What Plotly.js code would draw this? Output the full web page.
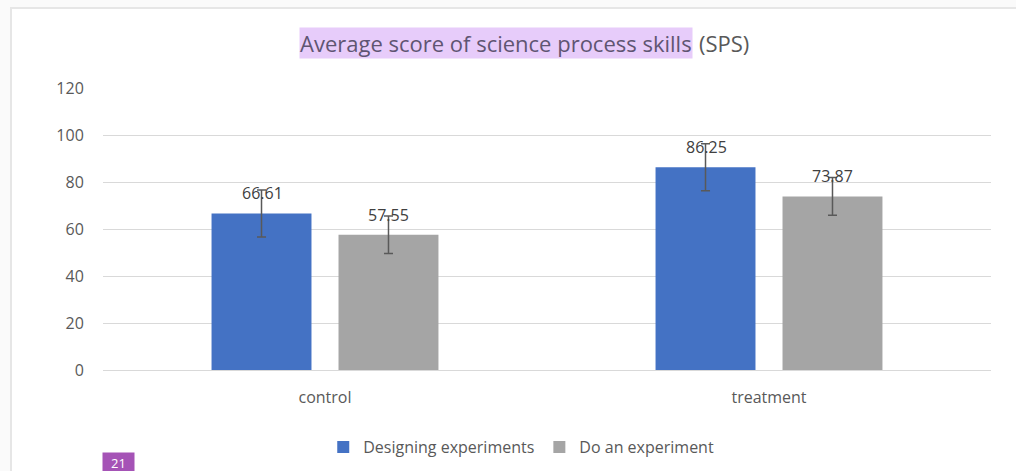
<!DOCTYPE html>
<html>
<head>
<meta charset="utf-8">
<script src="https://cdn.plot.ly/plotly-3.0.1.min.js"></script>
<style>
  html, body { margin: 0; padding: 0; background: #fafafa; width: 1016px; height: 471px; overflow: hidden; }
  #frame { position: absolute; left: 10px; top: 7px; width: 1030px; height: 490px; background: #ffffff; border: 2px solid #e6e6e6; }
  #chart { position: absolute; left: 0; top: 0; width: 1016px; height: 471px; }
</style>
</head>
<body>
<div id="frame"></div>
<div id="chart"></div>
<script>
const categories = ["control", "treatment"];
const seriesNames = ["Designing experiments", "Do an experiment"];
const designingValues = [66.61, 86.25];
const doValues = [57.55, 73.87];
const designingErrors = [10, 10];
const doErrors = [8, 8];
const yTicks = [0, 20, 40, 60, 80, 100, 120];
const titleMain = "Average score of science process skills";
const titleTail = "(SPS)";
const badgeText = "21";

const colors = ["#4472c4", "#a5a5a5"];
const fontFam = "Open Sans, sans-serif";
const txt = "#595959";

const values = [designingValues, doValues];
const errors = [designingErrors, doErrors];

const traces = values.map((v, i) => ({
  type: "bar",
  name: seriesNames[i],
  x: categories,
  y: v,
  marker: { color: colors[i] },
  error_y: { type: "data", array: errors[i], visible: true, color: "#595959", thickness: 1.5, width: 4.5 },
  hoverinfo: "none"
}));

const annotations = [];
const xshifts = [-63, 63];
values.forEach((v, i) => {
  v.forEach((val, j) => {
    annotations.push({
      x: categories[j], y: val, xref: "x", yref: "y",
      text: val.toFixed(2), showarrow: false,
      yanchor: "bottom", yshift: 7, xshift: xshifts[i],
      font: { family: fontFam, size: 16, color: "#404040" }
    });
  });
});

annotations.push({
  xref: "paper", yref: "paper", x: 0.664, y: 1.16, xanchor: "right", yanchor: "middle",
  text: titleMain, showarrow: false, bgcolor: "#e7ccfa", borderpad: 0,
  font: { family: fontFam, size: 22, color: "#5f5572" }
});
annotations.push({
  xref: "paper", yref: "paper", x: 0.669, y: 1.16, xanchor: "left", yanchor: "middle",
  text: titleTail, showarrow: false,
  font: { family: fontFam, size: 22, color: txt }
});
annotations.push({
  xref: "paper", yref: "paper", x: 0.0175, y: -0.291, xanchor: "center", yanchor: "top",
  text: badgeText, showarrow: false, bgcolor: "#a553b6", borderpad: 1, width: 29,
  font: { family: fontFam, size: 13, color: "#ffffff" }
});

const layout = {
  width: 1016, height: 471,
  margin: { l: 103, r: 25, t: 88, b: 101, autoexpand: false },
  paper_bgcolor: "rgba(0,0,0,0)",
  plot_bgcolor: "rgba(0,0,0,0)",
  barmode: "group",
  bargap: 0.428,
  bargroupgap: 0.213,
  font: { family: fontFam, color: txt },
  xaxis: {
    type: "category", automargin: false,
    tickfont: { family: fontFam, size: 16, color: txt },
    ticks: "outside", ticklen: 13, tickcolor: "rgba(0,0,0,0)",
    showline: false, showgrid: false, zeroline: false
  },
  yaxis: {
    range: [0, 120], automargin: false,
    tickvals: yTicks,
    ticktext: yTicks.map(String),
    tickfont: { family: fontFam, size: 16, color: txt },
    ticks: "outside", ticklen: 15, tickcolor: "rgba(0,0,0,0)",
    showgrid: true, gridcolor: "#d9d9d9", gridwidth: 1,
    zeroline: true, zerolinecolor: "#d9d9d9", zerolinewidth: 1,
    showline: false
  },
  showlegend: true,
  legend: {
    orientation: "h", x: 0.471, xanchor: "center", yref: "container", y: 0.051, yanchor: "middle",
    font: { family: fontFam, size: 16, color: txt },
    itemwidth: 30,
    itemclick: false
  },
  annotations: annotations
};

Plotly.newPlot("chart", traces, layout, { displayModeBar: false, staticPlot: true });
</script>
</body>
</html>
